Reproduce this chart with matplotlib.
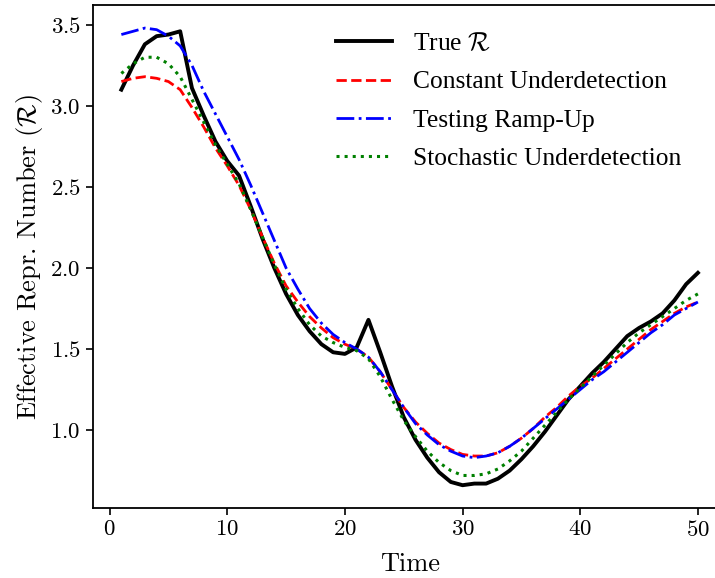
import numpy as np
import matplotlib.pyplot as plt

plt.rcParams['font.family'] = 'serif'
plt.rcParams['font.serif'] = ['cmr10']
plt.rcParams['mathtext.fontset'] = 'cm'
plt.rcParams['axes.formatter.use_mathtext'] = True

# time axis
t = np.arange(1, 51)

true_r = [3.10, 3.25, 3.38, 3.43, 3.44, 3.46, 3.11, 2.94, 2.78, 2.66,
          2.57, 2.38, 2.18, 2.00, 1.84, 1.71, 1.61, 1.53, 1.48, 1.47,
          1.51, 1.68, 1.48, 1.27, 1.08, 0.94, 0.83, 0.74, 0.68, 0.66,
          0.67, 0.67, 0.70, 0.75, 0.82, 0.90, 0.99, 1.09, 1.19, 1.27,
          1.35, 1.42, 1.50, 1.58, 1.63, 1.67, 1.72, 1.80, 1.90, 1.97]

constant = [3.15, 3.17, 3.18, 3.17, 3.15, 3.10, 2.99, 2.87, 2.74, 2.63,
            2.51, 2.36, 2.19, 2.03, 1.89, 1.79, 1.70, 1.63, 1.57, 1.53,
            1.50, 1.45, 1.36, 1.25, 1.14, 1.05, 0.98, 0.92, 0.88, 0.85,
            0.84, 0.84, 0.86, 0.90, 0.95, 1.01, 1.08, 1.14, 1.21, 1.27,
            1.32, 1.38, 1.44, 1.50, 1.56, 1.62, 1.67, 1.72, 1.76, 1.79]

ramp_up = [3.44, 3.46, 3.48, 3.47, 3.43, 3.37, 3.25, 3.09, 2.95, 2.81,
           2.67, 2.51, 2.34, 2.17, 2.00, 1.87, 1.75, 1.66, 1.59, 1.54,
           1.50, 1.45, 1.36, 1.25, 1.14, 1.04, 0.97, 0.91, 0.87, 0.84,
           0.83, 0.84, 0.86, 0.90, 0.95, 1.01, 1.07, 1.13, 1.19, 1.25,
           1.31, 1.36, 1.42, 1.48, 1.54, 1.60, 1.65, 1.71, 1.75, 1.79]

stochastic = [3.20, 3.26, 3.30, 3.30, 3.26, 3.18, 3.04, 2.90, 2.76, 2.64,
              2.52, 2.36, 2.19, 2.02, 1.87, 1.75, 1.65, 1.58, 1.54, 1.51,
              1.49, 1.44, 1.33, 1.19, 1.06, 0.96, 0.87, 0.80, 0.75, 0.72,
              0.72, 0.73, 0.76, 0.81, 0.87, 0.95, 1.03, 1.11, 1.19, 1.26,
              1.33, 1.40, 1.47, 1.54, 1.60, 1.65, 1.70, 1.75, 1.80, 1.84]

fig = plt.figure(figsize=(7.15, 5.78), dpi=100)
ax = fig.add_axes([0.1294, 0.121, 0.887, 0.870])

ax.plot(t, true_r, color='black', lw=2.8, label=r'True $\mathcal{R}$')
ax.plot(t, constant, color='red', ls='--', lw=2, label='Constant Underdetection')
ax.plot(t, ramp_up, color='blue', ls='-.', lw=2, label='Testing Ramp-Up')
ax.plot(t, stochastic, color='green', ls=':', lw=2.2, label='Stochastic Underdetection')

ax.set_xlabel('Time', fontsize=19, labelpad=9)
ax.set_ylabel(r'Effective Repr. Number ($\mathcal{R}$)', fontsize=19)
ax.tick_params(labelsize=16.5, width=1.2, length=5)
for s in ax.spines.values():
    s.set_linewidth(1.3)

leg = ax.legend(loc='upper left', bbox_to_anchor=(0.348, 0.992), frameon=False,
                prop={'family': 'Liberation Serif', 'size': 18.4},
                handlelength=2.2, labelspacing=0.6)

fig.savefig('out.png', dpi=100)
